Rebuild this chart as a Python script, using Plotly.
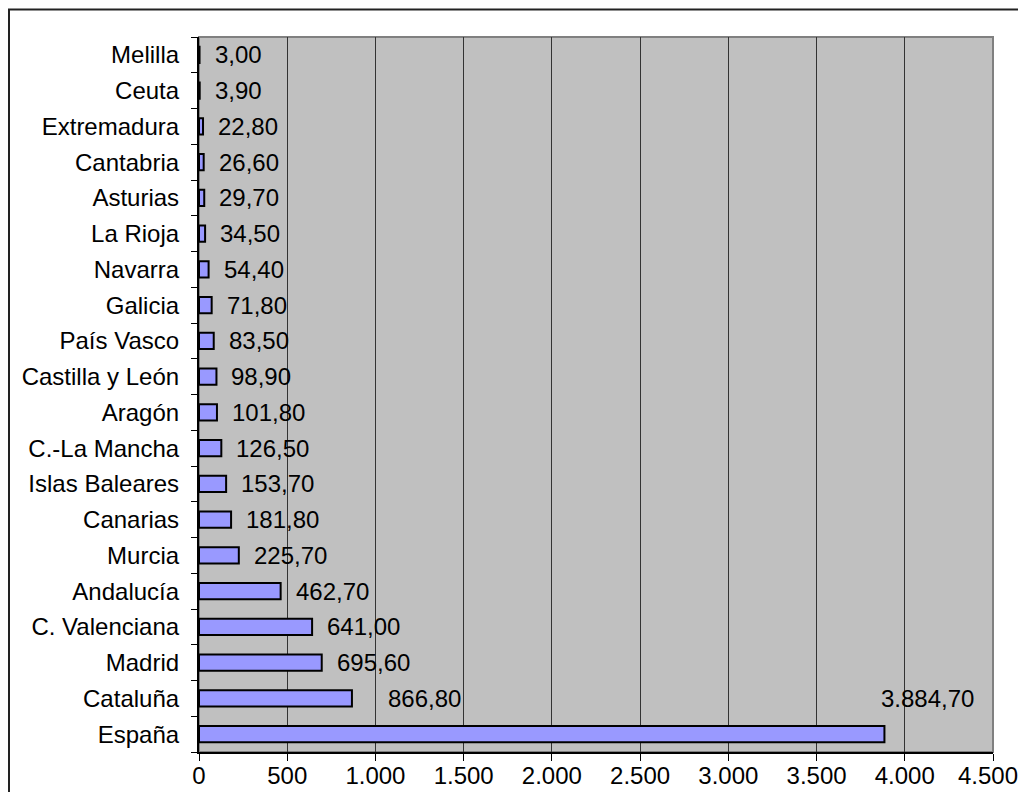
import plotly.graph_objects as go

regions = ["España", "Cataluña", "Madrid", "C. Valenciana", "Andalucía", "Murcia",
           "Canarias", "Islas Baleares", "C.-La Mancha", "Aragón", "Castilla y León",
           "País Vasco", "Galicia", "Navarra", "La Rioja", "Asturias", "Cantabria",
           "Extremadura", "Ceuta", "Melilla"]
values = [3884.70, 866.80, 695.60, 641.00, 462.70, 225.70, 181.80, 153.70, 126.50,
          101.80, 98.90, 83.50, 71.80, 54.40, 34.50, 29.70, 26.60, 22.80, 3.90, 3.00]
x_ticks = [0, 500, 1000, 1500, 2000, 2500, 3000, 3500, 4000, 4500]


def fmt(v, dec=2):
    s = f"{v:,.{dec}f}"
    return s.replace(",", "X").replace(".", ",").replace("X", ".")


FONT = "Liberation Sans, Arial, sans-serif"
FS = 24
fig = go.Figure()
fig.add_trace(go.Bar(
    x=values, y=regions, orientation="h", width=0.45,
    marker=dict(color="#9999FF", line=dict(color="black", width=2)),
    hoverinfo="x+y",
))

for r, v in zip(regions, values):
    if r == "España":
        kw = dict(xshift=-5, yshift=36)
    elif r == "Cataluña":
        kw = dict(xshift=34)
    else:
        kw = dict(xshift=13)
    fig.add_annotation(x=v, y=r, text=fmt(v), showarrow=False, xanchor="left",
                       font=dict(family=FONT, size=FS, color="black"), **kw)

# tick labels; the last one is drawn as an annotation nudged left so it stays in view
tick_text = [fmt(t, 0) for t in x_ticks[:-1]] + [""]
fig.add_annotation(x=x_ticks[-1], y=0, xref="x", yref="paper", text=fmt(x_ticks[-1], 0),
                   showarrow=False, xanchor="center", yanchor="middle",
                   xshift=-5, yshift=-23, font=dict(family=FONT, size=FS, color="black"))

# page has an 8px body margin; figure coordinates are page - 8
OFF = 8
L, R, T, B = 199 - OFF, 993 - OFF, 37 - OFF, 752 - OFF
W, H = 1018, 784
pw, ph = R - L, B - T
# outer chart frame (right and bottom edges fall outside the view)
fig.add_shape(type="rect", xref="paper", yref="paper",
              x0=(9 - OFF - L) / pw, x1=(1040 - OFF - L) / pw,
              y0=(B - (815 - OFF)) / ph, y1=(B - (9.5 - OFF)) / ph,
              line=dict(color="#222222", width=2), fillcolor="rgba(0,0,0,0)", layer="below")
# plot-area border (gray, visible at top and right)
fig.add_shape(type="rect", xref="paper", yref="paper", x0=0, x1=1, y0=0, y1=1,
              line=dict(color="#808080", width=2), fillcolor="rgba(0,0,0,0)", layer="below")

fig.update_layout(
    width=W, height=H,
    margin=dict(l=L, r=W - R, t=T, b=H - B, pad=0),
    paper_bgcolor="white", plot_bgcolor="#C0C0C0",
    showlegend=False,
    font=dict(family=FONT, size=FS, color="black"),
    xaxis=dict(range=[0, 4500], tickvals=x_ticks, ticktext=tick_text,
               showgrid=True, gridcolor="#333333", gridwidth=1,
               showline=True, linecolor="black", linewidth=1.5,
               ticks="outside", ticklen=7, tickcolor="black", zeroline=False,
               automargin=False, ticklabelstandoff=-6, ticklabeloverflow="allow",
               tickfont=dict(family=FONT, size=FS, color="black")),
    yaxis=dict(type="category", categoryorder="array", categoryarray=regions,
               range=[-0.5, len(regions) - 0.5],
               showgrid=False, showline=True, linecolor="black", linewidth=1.5,
               ticks="outside", ticklen=6, tickcolor="black", tickson="boundaries",
               ticksuffix="  ", automargin=False, ticklabeloverflow="allow",
               tickfont=dict(family=FONT, size=FS, color="black")),
)

fig.write_html("out.html")
